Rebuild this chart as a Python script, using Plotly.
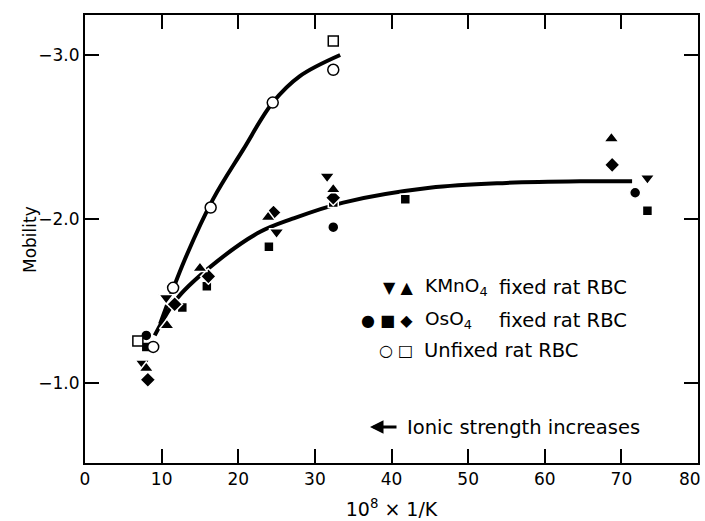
import plotly.graph_objects as go

# ---- data ----
kmno4_down_x = [7.5, 10.6, 25.0, 31.6, 73.4]
kmno4_down_y = [-1.12, -1.52, -1.92, -2.26, -2.25]
kmno4_up_x = [8.0, 10.7, 15.0, 23.9, 32.4, 68.7]
kmno4_up_y = [-1.09, -1.35, -1.70, -2.01, -2.18, -2.49]

oso4_circle_x = [8.0, 32.4, 71.8]
oso4_circle_y = [-1.29, -1.95, -2.16]
oso4_square_x = [8.0, 12.7, 15.9, 24.0, 32.4, 41.8, 73.4]
oso4_square_y = [-1.22, -1.46, -1.59, -1.83, -2.10, -2.12, -2.05]
oso4_diamond_x = [8.2, 11.7, 16.1, 24.6, 32.4, 68.8]
oso4_diamond_y = [-1.02, -1.48, -1.65, -2.04, -2.13, -2.33]

unfixed_circle_x = [8.9, 11.5, 16.4, 24.5, 32.4]
unfixed_circle_y = [-1.22, -1.58, -2.07, -2.71, -2.91]
unfixed_square_x = [6.9, 32.4]
unfixed_square_y = [-1.256, -3.085]

# fitted curves
unfixed_curve_x = [9.8, 13.0, 16.7, 20.6, 24.5, 28.0, 33.3]
unfixed_curve_y = [-1.36, -1.75, -2.12, -2.42, -2.71, -2.87, -3.00]
fixed_curve_x = [9.1, 12.1, 17.2, 22.8, 27.0, 33.7, 45.0, 55.0, 64.6, 71.4]
fixed_curve_y = [-1.29, -1.52, -1.74, -1.92, -2.00, -2.10, -2.19, -2.22, -2.23, -2.23]

x_ticks = [0, 10, 20, 30, 40, 50, 60, 70, 80]
x_ticktext = ["0", "10", "20", "30", "40", "50", "60", "70", ""]  # "80" placed below as it sits at the edge
y_ticks = [-3, -2, -1]

FONT = "DejaVu Sans, Noto Sans, sans-serif"
BLACK = "black"

fig = go.Figure()

for cx, cy in [(unfixed_curve_x, unfixed_curve_y), (fixed_curve_x, fixed_curve_y)]:
    fig.add_trace(go.Scatter(x=cx, y=cy, mode="lines",
                             line=dict(color=BLACK, width=4, shape="spline", smoothing=1.0),
                             hoverinfo="skip", showlegend=False))

def pts(x, y, symbol, size, fill=BLACK, lw=1.5, lc="white"):
    fig.add_trace(go.Scatter(x=x, y=y, mode="markers", showlegend=False,
                             marker=dict(symbol=symbol, size=size, color=fill,
                                         line=dict(color=lc, width=lw))))

pts(oso4_square_x, oso4_square_y, "square", 10)
pts(oso4_diamond_x, oso4_diamond_y, "diamond", 12)
pts(oso4_circle_x, oso4_circle_y, "circle", 11)
pts(kmno4_down_x, kmno4_down_y, "triangle-down", 13)
pts(kmno4_up_x, kmno4_up_y, "triangle-up", 13)
pts(unfixed_circle_x, unfixed_circle_y, "circle", 11, fill="white", lw=1.5, lc=BLACK)
pts(unfixed_square_x, unfixed_square_y, "square", 10, fill="white", lw=1.5, lc=BLACK)

axis_common = dict(showline=True, linecolor=BLACK, linewidth=2, mirror="ticks",
                   ticks="inside", ticklen=14, tickwidth=1.5, tickcolor=BLACK,
                   showgrid=False, zeroline=False, automargin=False,
                   tickfont=dict(family=FONT, size=17, color=BLACK))

fig.update_xaxes(range=[0, 80], tickvals=x_ticks, ticktext=x_ticktext,
                 title=dict(text="10<sup>8</sup> × 1/K", font=dict(family=FONT, size=19, color=BLACK),
                            standoff=14),
                 **axis_common)
fig.update_yaxes(range=[-0.512, -3.244], tickvals=y_ticks, tickformat=".1f",
                 **axis_common)

def px2paper(px, py):
    return (px - 85) / 613.0, (463 - py) / 448.0

ann = []
def txt(px, py, text, anchor="left", size=19.5, yanchor="middle", angle=0):
    x, y = px2paper(px, py)
    ann.append(dict(x=x, y=y, xref="paper", yref="paper", text=text, showarrow=False,
                    xanchor=anchor, yanchor=yanchor, textangle=angle,
                    font=dict(family=FONT, size=size, color=BLACK)))

txt(415, 287, "▼ ▲", anchor="right", size=16)
txt(423, 287, "KMnO<sub>4</sub>", size=18.5)
txt(497, 287, "fixed rat RBC")
txt(415, 320, "● ■ ◆", anchor="right", size=16)
txt(423, 320, "OsO<sub>4</sub>", size=18.5)
txt(497, 320, "fixed rat RBC")
txt(415, 350, "○ □", anchor="right", size=16)
txt(422, 350, "Unfixed rat RBC")
txt(405, 427, "Ionic strength increases")
txt(703, 479, "80", anchor="right", size=17)
txt(30, 240, "Mobility", anchor="center", size=17, angle=-90)

hx, hy = px2paper(370, 427)
ann.append(dict(x=hx, y=hy, xref="paper", yref="paper", ax=28, ay=0, axref="pixel", ayref="pixel",
                text="", showarrow=True, arrowhead=2, arrowsize=0.9, arrowwidth=3,
                arrowcolor=BLACK))

fig.update_layout(width=705, height=521, margin=dict(l=85, r=7, t=15, b=58),
                  paper_bgcolor="white", plot_bgcolor="white",
                  annotations=ann, font=dict(family=FONT, color=BLACK))

fig.write_html("out.html")
